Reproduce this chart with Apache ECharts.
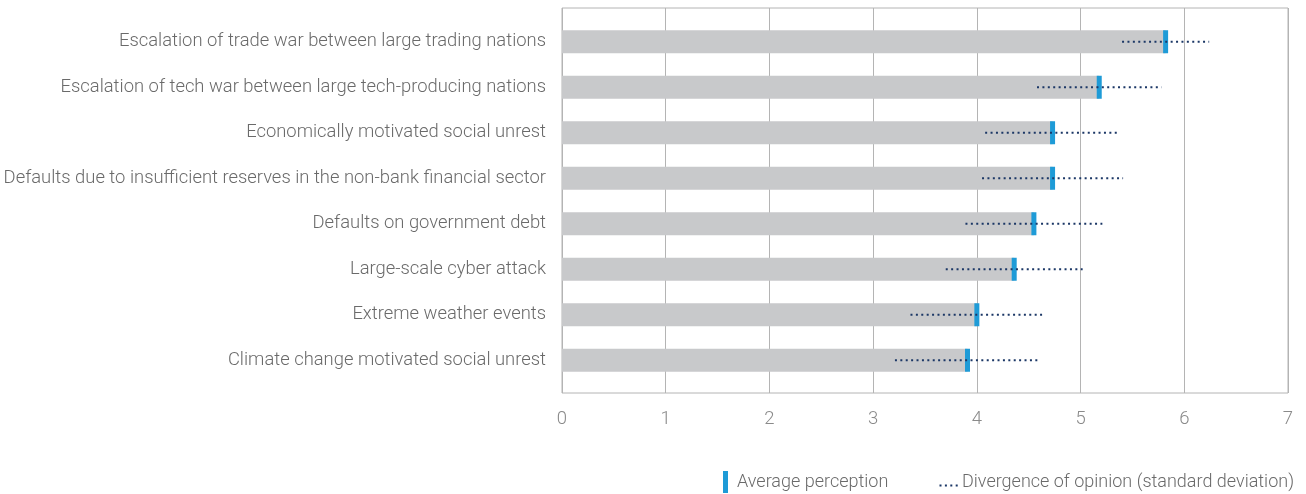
<!DOCTYPE html>
<html>
<head>
<meta charset="utf-8">
<script src="https://cdn.jsdelivr.net/npm/echarts@6/dist/echarts.min.js"></script>
<style>
  html, body { margin: 0; padding: 0; background: #fff; }
  #chart { width: 1306px; height: 494px; }
</style>
</head>
<body>
<div id="chart"></div>
<script>
// risk categories, top to bottom
var categories = [
  'Escalation of trade war between large trading nations',
  'Escalation of tech war between large tech-producing nations',
  'Economically motivated social unrest',
  'Defaults due to insufficient reserves in the non-bank financial sector',
  'Defaults on government debt',
  'Large-scale cyber attack',
  'Extreme weather events',
  'Climate change motivated social unrest'
];
// average perception
var avgValues = [5.82, 5.18, 4.73, 4.73, 4.55, 4.36, 4.00, 3.91];
// standard deviation (dotted line = avg +/- sd)
var sdValues = [0.42, 0.60, 0.65, 0.68, 0.66, 0.66, 0.64, 0.70];
var xTicks = [0, 1, 2, 3, 4, 5, 6, 7];

var FONT = 'Roboto';
var TEXT = '#6a6a6a';
var GRAY_BAR = '#c8c9cb';
var BLUE = '#1e9bd7';
var NAVY = '#1b3766';

var chart = echarts.init(document.getElementById('chart'));

var markerData = categories.map(function (c, i) {
  return [avgValues[i], i, sdValues[i]];
});

chart.setOption({
  animation: false,
  grid: [
    // outer frame with the value gridlines
    { left: 562, right: 18, top: 8, height: 385, show: true, borderColor: '#b4b4b4', borderWidth: 1 },
    // inner area for the rows
    { left: 562, right: 18, top: 19, height: 364 }
  ],
  xAxis: [{
    gridIndex: 0,
    type: 'value',
    min: xTicks[0],
    max: xTicks[xTicks.length - 1],
    interval: 1,
    axisLine: { show: false },
    axisTick: { show: false },
    splitLine: { show: true, lineStyle: { color: '#b4b4b4', width: 1 } },
    axisLabel: { margin: 17, color: '#8a8a8a', fontSize: 18.5, fontFamily: FONT, fontWeight: 300 }
  }, {
    gridIndex: 1,
    type: 'value',
    min: xTicks[0],
    max: xTicks[xTicks.length - 1],
    show: false
  }],
  yAxis: [{
    gridIndex: 0,
    type: 'value',
    show: false
  }, {
    gridIndex: 1,
    type: 'category',
    data: categories,
    inverse: true,
    axisLine: { show: false },
    axisTick: { show: false },
    splitLine: { show: false },
    axisLabel: { margin: 16, color: TEXT, fontSize: 18.4, fontFamily: FONT, fontWeight: 300 }
  }],
  series: [{
    type: 'bar',
    xAxisIndex: 1,
    yAxisIndex: 1,
    data: avgValues,
    barWidth: 23,
    itemStyle: { color: GRAY_BAR },
    silent: true,
    z: 2
  }, {
    type: 'custom',
    xAxisIndex: 1,
    yAxisIndex: 1,
    encode: { x: 0, y: 1 },
    data: markerData,
    z: 5,
    renderItem: function (params, api) {
      var avg = api.value(0);
      var idx = api.value(1);
      var sd = api.value(2);
      var c = api.coord([avg, idx]);
      var lo = api.coord([avg - sd, idx]);
      var hi = api.coord([avg + sd, idx]);
      var h = 23;
      return {
        type: 'group',
        children: [{
          type: 'rect',
          shape: { x: c[0] - 2.5, y: c[1] - h / 2, width: 5, height: h },
          style: { fill: BLUE }
        }, {
          type: 'line',
          shape: { x1: lo[0], y1: c[1], x2: hi[0], y2: c[1] },
          style: { stroke: NAVY, lineWidth: 2, lineDash: [2, 3.4] }
        }]
      };
    }
  }],
  graphic: [
    { type: 'rect', left: 723, top: 471, shape: { width: 5, height: 22 }, style: { fill: BLUE } },
    { type: 'text', left: 737, top: 473, style: { text: 'Average perception', fill: TEXT, font: '300 18px ' + FONT } },
    { type: 'line', left: 937, top: 483, shape: { x1: 0, y1: 0, x2: 20, y2: 0 }, style: { stroke: NAVY, lineWidth: 2, lineDash: [2, 3.4] } },
    { type: 'text', left: 962, top: 473, style: { text: 'Divergence of opinion (standard deviation)', fill: TEXT, font: '300 18px ' + FONT } }
  ]
});
</script>
</body>
</html>
